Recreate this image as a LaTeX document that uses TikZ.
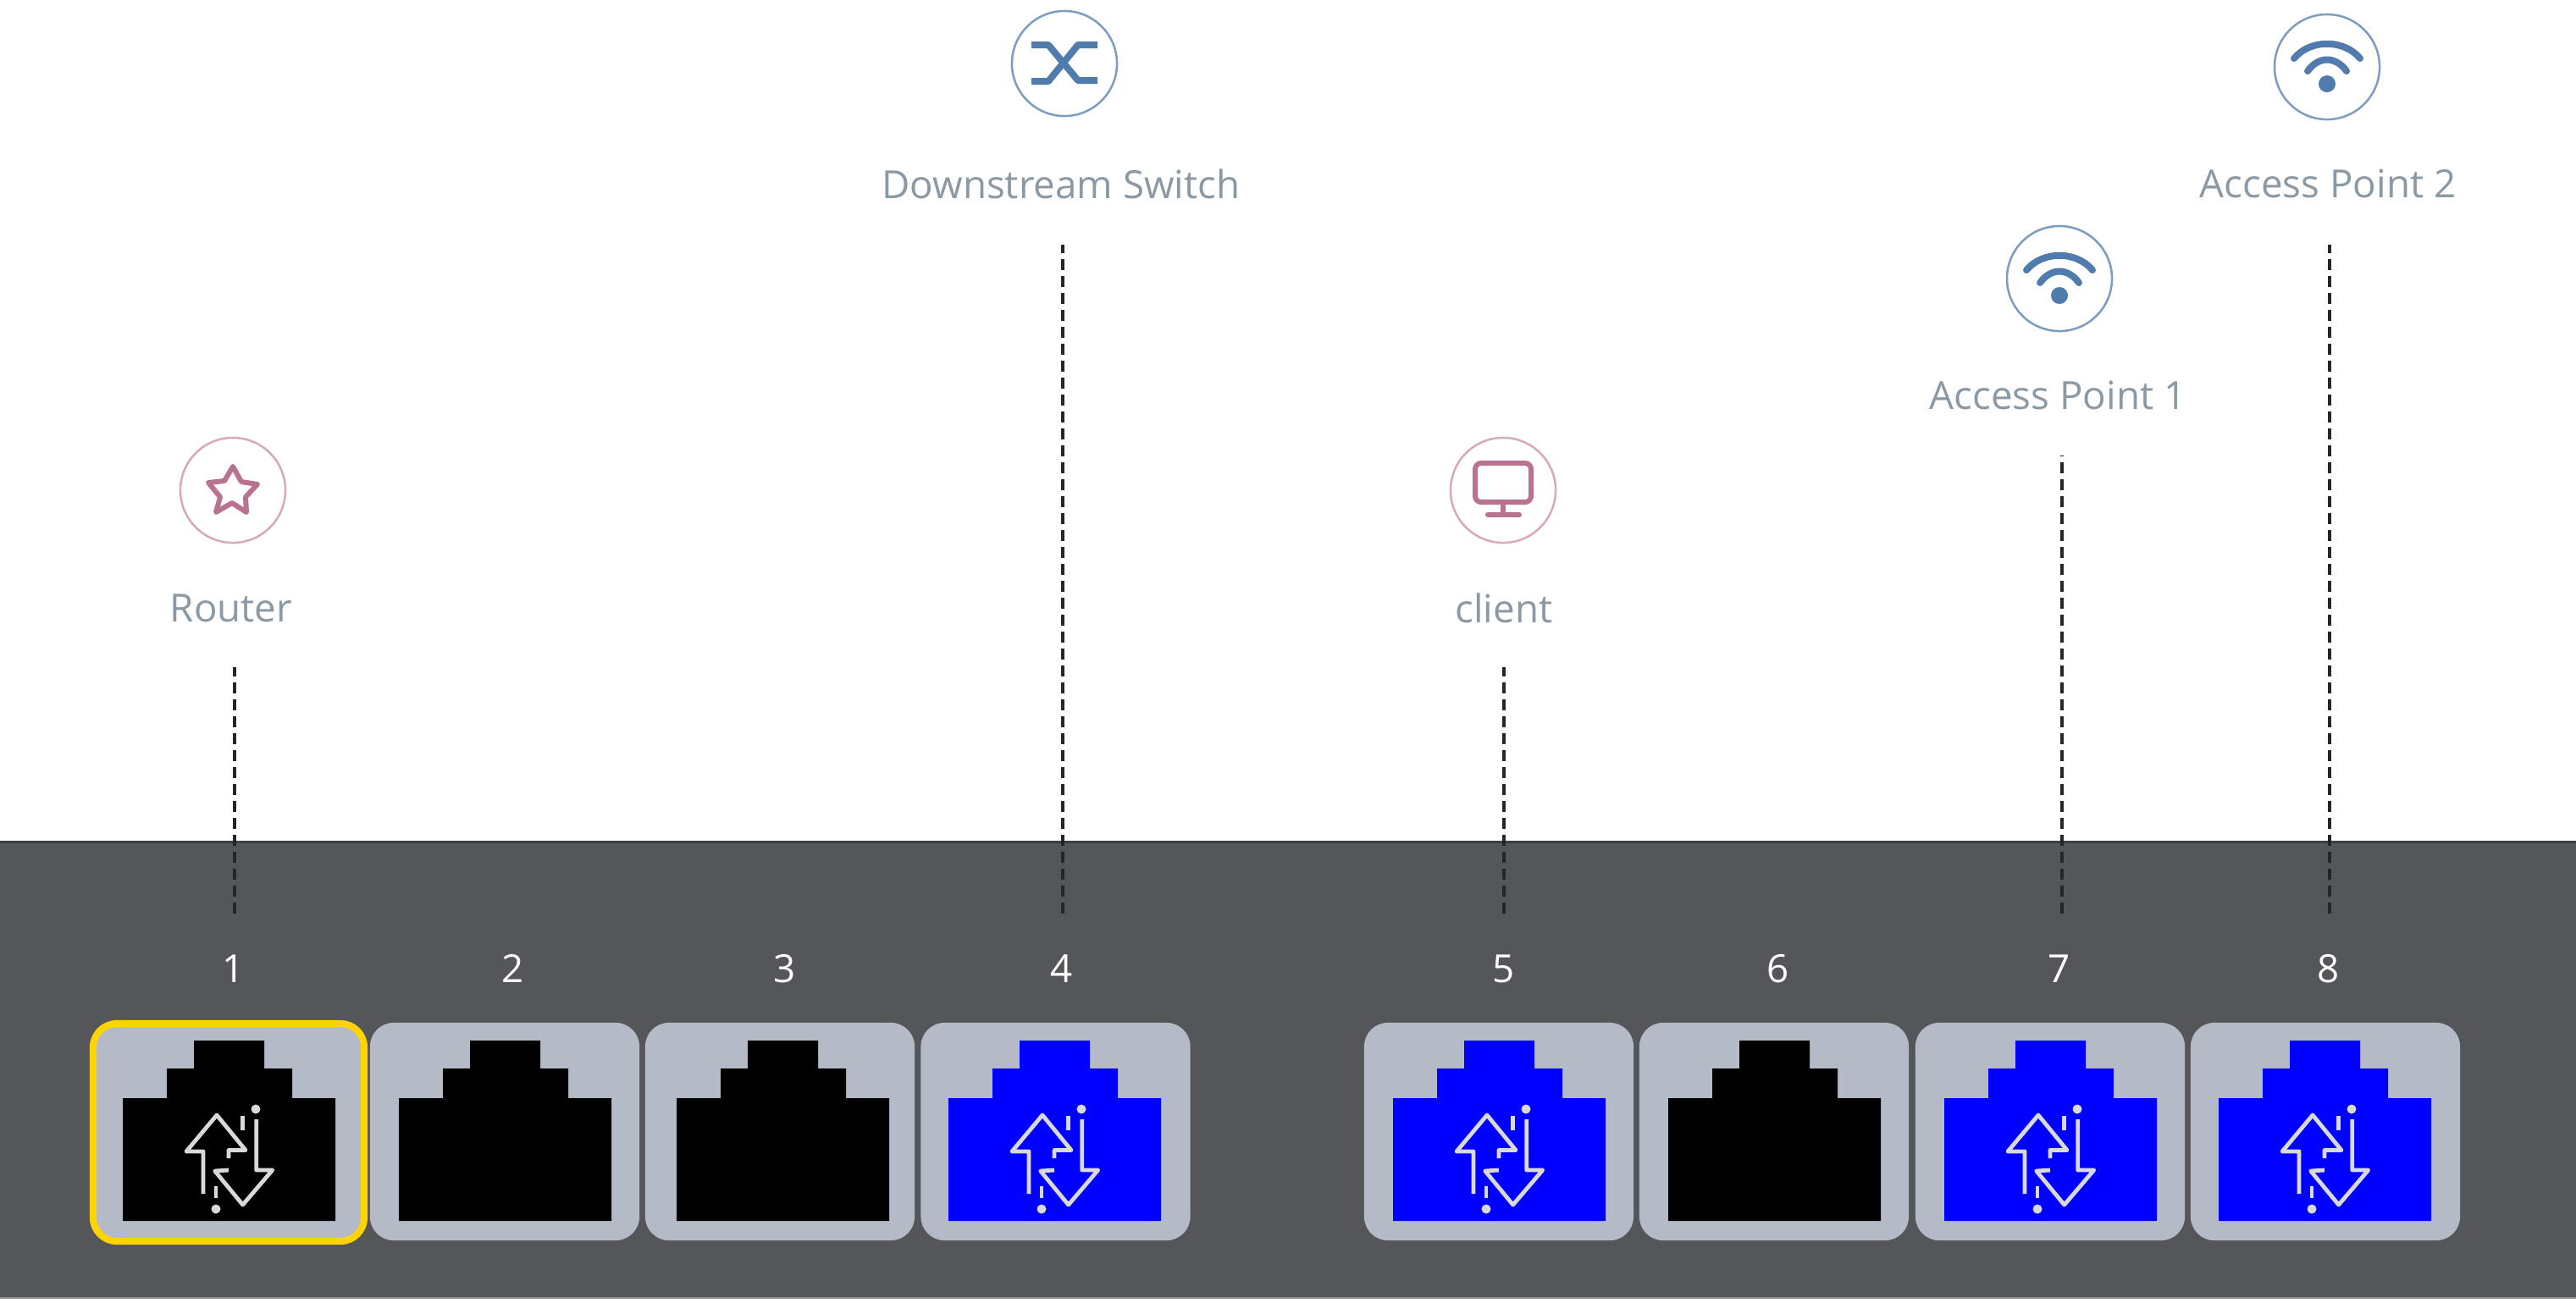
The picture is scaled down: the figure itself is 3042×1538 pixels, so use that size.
\documentclass[tikz,border=0pt]{standalone}
\usepackage{fontspec}
\setmainfont{Open Sans}
\definecolor{panel}{HTML}{55565A}
\definecolor{panelline}{HTML}{3F4044}
\definecolor{portgrey}{HTML}{B4BBC7}
\definecolor{selgold}{HTML}{FFD400}
\definecolor{linkblue}{HTML}{0000FF}
\definecolor{labelgrey}{HTML}{8A99A3}
\definecolor{rose}{HTML}{B9728F}
\definecolor{roseline}{HTML}{D8A9BC}
\definecolor{steel}{HTML}{4F7BAD}
\definecolor{steelline}{HTML}{7D9CC2}
\tikzset{
  x=0.01cm,y=-0.01cm,
  portbox/.style={fill=portgrey,draw=none,rounded corners=0.28cm,minimum width=3.18cm,minimum height=2.57cm,inner sep=0pt,outer sep=0pt},
  selbox/.style={portbox,draw=selgold,line width=0.08cm},
  numlabel/.style={text=white,font=\fontsize{13pt}{15pt}\selectfont,inner sep=0pt},
  devlabel/.style={text=labelgrey,font=\fontsize{13pt}{15pt}\selectfont,inner sep=0pt},
  devring/.style={circle,minimum size=1.24cm,inner sep=0pt,fill=white,line width=0.025cm},
  rosering/.style={devring,draw=roseline},
  steelring/.style={devring,draw=steelline},
  link/.style={draw=black!85,line width=0.035cm,dash pattern=on 0.13cm off 0.07cm},
  glyphrose/.style={draw=rose,line width=0.06cm,line join=round,line cap=round},
  glyphsteel/.style={draw=steel,line width=0.08cm,line join=round,line cap=round},
  arrowline/.style={draw=white!85!black,line width=0.048cm,line join=round,line cap=butt},
}
\newcommand{\jackshape}[2]{% left edge, colour
  \begin{scope}[shift={(#1,1208)}]
    \fill[#2] (33,234) -- (33,89) -- (85,89) -- (85,54) -- (117,54) -- (117,21) -- (200,21) -- (200,54) -- (233,54) -- (233,89) -- (284,89) -- (284,234) -- cycle;
  \end{scope}}
\newcommand{\linkarrows}[1]{%
  \begin{scope}[shift={(#1,1208)}]
    \draw[arrowline] (128,202) -- (128,152) -- (108,152) -- (144,109) -- (178,150.5) -- (158,150.5) -- (158,160);
    \draw[arrowline] (174.7,110) -- (174.7,127);
    \draw[arrowline] (190.7,114) -- (190.7,174) -- (209.7,174) -- (174.7,215) -- (141.7,175) -- (158,174);
    \draw[arrowline] (143,193) -- (143,207);
    \fill[white!85!black] (190,102) circle (5.5);
    \fill[white!85!black] (143,220) circle (5.5);
  \end{scope}}
\newcommand{\wifiglyph}[1]{%
  \begin{scope}[shift={(#1)}]
    \fill[steel] (0,20) circle (10);
    \draw[glyphsteel] (-39,-10) .. controls (-20,-33) and (20,-33) .. (39,-10);
    \draw[glyphsteel] (-23,5) .. controls (-10,-13) and (10,-13) .. (23,5);
  \end{scope}}
\begin{document}
\begin{tikzpicture}
\useasboundingbox (0,0) rectangle (3042,1538);
\fill[white] (0,0) rectangle (3042,1538);
% panel
\fill[panel] (0,994) rectangle (3042,1532);
\draw[panelline,line width=0.03cm] (0,994) -- (3042,994);
\draw[black!45,line width=0.02cm] (0,1533) -- (3042,1533);
% ports
\node[selbox,minimum width=3.2cm] (p1) at (270,1337.5) {};
\node[portbox] (p2) at (596,1336.5) {};
\node[portbox] (p3) at (921,1336.5) {};
\node[portbox] (p4) at (1246.5,1336.5) {};
\node[portbox] (p5) at (1770,1336.5) {};
\node[portbox] (p6) at (2095,1336.5) {};
\node[portbox] (p7) at (2421,1336.5) {};
\node[portbox] (p8) at (2746,1336.5) {};
\jackshape{112}{black}\linkarrows{112}
\jackshape{438}{black}
\jackshape{766}{black}
\jackshape{1087}{linkblue}\linkarrows{1087}
\jackshape{1612}{linkblue}\linkarrows{1612}
\jackshape{1937}{black}
\jackshape{2263}{linkblue}\linkarrows{2263}
\jackshape{2587}{linkblue}\linkarrows{2587}
% numbers
\node[numlabel] (n1) at (276,1144) {1};
\node[numlabel] (n2) at (606,1144) {2};
\node[numlabel] (n3) at (927,1144) {3};
\node[numlabel] (n4) at (1254,1144) {4};
\node[numlabel] (n5) at (1776,1144) {5};
\node[numlabel] (n6) at (2100,1144) {6};
\node[numlabel] (n7) at (2432,1144) {7};
\node[numlabel] (n8) at (2750,1144) {8};
% device rings
\node[rosering] (router) at (275,579) {};
\node[steelring] (switch) at (1257,75) {};
\node[rosering] (client) at (1775,579) {};
\node[steelring] (ap1) at (2432,329) {};
\node[steelring] (ap2) at (2748,79) {};
% device labels
\node[devlabel] (lrouter) at (273,718) {Router};
\node[devlabel] (lswitch) at (1253,217) {Downstream Switch};
\node[devlabel] (lclient) at (1776,718) {client};
\node[devlabel] (lap1) at (2430,467) {Access Point 1};
\node[devlabel] (lap2) at (2749,217) {Access Point 2};
% glyphs
\draw[glyphrose] (275,551) -- (285,569) -- (304,572) -- (290,587) -- (291,605) -- (274,594) -- (255,605) -- (260,587) -- (246,570) -- (265,568) -- cycle;
\draw[glyphrose,rounded corners=0.07cm] (1742,547) rectangle (1808,593);
\draw[glyphrose] (1775,593) -- (1775,608);
\draw[glyphrose] (1757,608) -- (1794,608);
\draw[glyphsteel,line cap=butt] (1218,53) -- (1238,53) -- (1273,95) -- (1296,95);
\draw[glyphsteel,line cap=butt] (1218,96) -- (1238,96) -- (1273,53) -- (1296,53);
\wifiglyph{2432,329}
\wifiglyph{2748,79}
% connectors
\coordinate (c1a) at (277,788); \coordinate (c1b) at (277,1079);
\coordinate (c4a) at (1255,289); \coordinate (c4b) at (1255,1079);
\coordinate (c5a) at (1776,788); \coordinate (c5b) at (1776,1079);
\coordinate (c7a) at (2435,538); \coordinate (c7b) at (2435,1079);
\coordinate (c8a) at (2751,289); \coordinate (c8b) at (2751,1079);
\draw[link] (c1b) -- (c1a);
\draw[link] (c4b) -- (c4a);
\draw[link] (c5b) -- (c5a);
\draw[link] (c7b) -- (c7a);
\draw[link] (c8b) -- (c8a);
\end{tikzpicture}
\end{document}
